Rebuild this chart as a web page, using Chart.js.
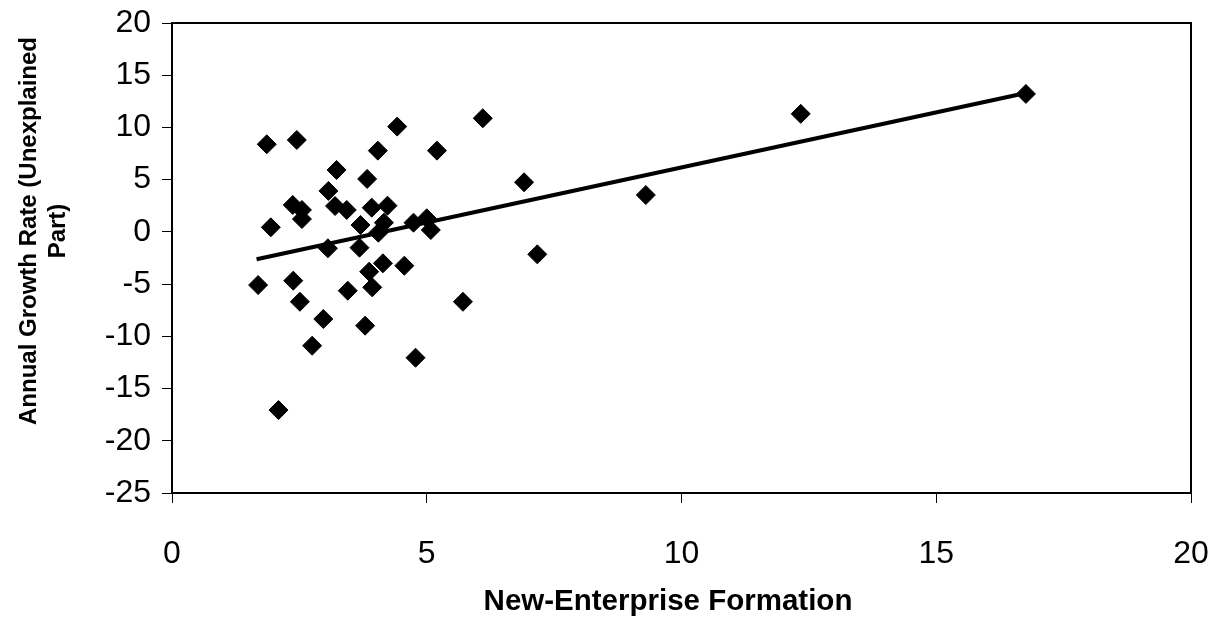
<!DOCTYPE html>
<html>
<head>
<meta charset="utf-8">
<script src="https://cdn.jsdelivr.net/npm/chart.js@4"></script>
<style>
  html, body { margin: 0; padding: 0; background: #fff; }
  #wrap { width: 1215px; height: 617px; }
</style>
</head>
<body>
<div id="wrap"><canvas id="growthChart"></canvas></div>
<script>
// values
const newEnterprise = [1.86, 2.45, 4.42, 4.04, 5.20, 3.23, 3.83, 3.07, 2.37, 2.55,
  2.55, 3.20, 3.43, 3.92, 4.23, 3.70, 4.16, 4.05, 4.74, 5.00,
  5.08, 1.94, 3.06, 3.68, 4.14, 4.56, 3.87, 1.69, 2.38, 3.45,
  3.93, 2.51, 2.97, 2.75, 2.09, 3.79, 4.78, 5.71, 6.10, 6.91,
  7.17, 9.30, 12.34, 16.76];
const growthRate = [8.39, 8.80, 10.08, 7.78, 7.78, 5.93, 5.07, 3.92, 2.58, 2.10,
  1.23, 2.48, 2.10, 2.32, 2.51, 0.66, 0.88, -0.08, 0.88, 1.30,
  0.18, 0.44, -1.57, -1.51, -3.01, -3.24, -3.81, -5.09, -4.67, -5.63,
  -5.31, -6.69, -8.34, -10.90, -17.06, -8.98, -12.05, -6.69, 10.88, 4.75,
  -2.15, 3.53, 11.30, 13.21];
const trendX = [1.66, 16.76];
const trendY = [-2.62, 13.3];
const xTicks = [0, 5, 10, 15, 20];
const yTicks = [20, 15, 10, 5, 0, -5, -10, -15, -20, -25];
const xTitle = 'New-Enterprise Formation';
const yTitle = ['Annual Growth Rate (Unexplained', 'Part)'];

let ctx = document.getElementById('growthChart');

// frame round the plot area, plus both axis titles (both sit a bit off centre)
const frame = {
  id: 'frame',
  afterDraw(chart) {
    const a = chart.chartArea;
    const c = chart.ctx;
    c.save();
    c.strokeStyle = '#000';
    c.lineWidth = 2;
    c.strokeRect(a.left, a.top, a.right - a.left, a.bottom - a.top);
    c.fillStyle = '#000';
    c.textAlign = 'center';
    c.textBaseline = 'middle';
    c.font = 'bold 29.5px "Liberation Sans Narrow", "Liberation Sans", Arial';
    c.fillText(xTitle, 668, 602);
    c.font = 'bold 24px "Liberation Sans", Arial';
    c.translate(29, 231);
    c.rotate(-Math.PI / 2);
    yTitle.forEach((line, i) => c.fillText(line, 0, i * 29));
    c.restore();
  }
};

let points = newEnterprise.map((x, i) => ({ x: x, y: growthRate[i] }));
let trend = trendX.map((x, i) => ({ x: x, y: trendY[i] }));

let data = {
  datasets: [{
    type: 'line',
    data: trend,
    borderColor: '#000',
    borderWidth: 4,
    pointRadius: 0,
    fill: false,
    order: 2
  }, {
    type: 'scatter',
    data: points,
    pointStyle: 'rectRot',
    pointRadius: 9.5,
    backgroundColor: '#000',
    borderColor: '#000',
    borderWidth: 1,
    order: 1
  }]
};

let options = {
  responsive: true,
  maintainAspectRatio: false,
  animation: false,
  layout: { padding: { left: 0, right: 24, top: 23, bottom: 0 } },
  plugins: { legend: { display: false }, tooltip: { enabled: false } },
  scales: {
    x: {
      type: 'linear',
      min: 0,
      max: 20,
      afterFit: (s) => { s.height = 124; s.paddingLeft = 0; s.paddingRight = 0; },
      afterBuildTicks: (s) => { s.ticks = xTicks.map(v => ({ value: v })); },
      grid: { drawOnChartArea: false, drawTicks: true, tickLength: 10, tickColor: '#000', tickWidth: 1 },
      border: { display: true, color: '#000', width: 2 },
      ticks: { color: '#000', padding: 32, font: { family: 'Liberation Sans, Arial', size: 32 } },
      title: { display: false }
    },
    y: {
      type: 'linear',
      min: -25,
      max: 20,
      afterFit: (s) => { s.width = 172; s.paddingTop = 0; s.paddingBottom = 0; },
      afterBuildTicks: (s) => { s.ticks = yTicks.map(v => ({ value: v })); },
      grid: { drawOnChartArea: false, drawTicks: true, tickLength: 10, tickColor: '#000', tickWidth: 1 },
      border: { display: true, color: '#000', width: 2 },
      ticks: { color: '#000', padding: 11, font: { family: 'Liberation Sans, Arial', size: 32 } },
      title: { display: false }
    }
  }
};

new Chart(ctx, {
  type: 'scatter',
  data: data,
  options: options,
  plugins: [frame]
});
</script>
</body>
</html>
